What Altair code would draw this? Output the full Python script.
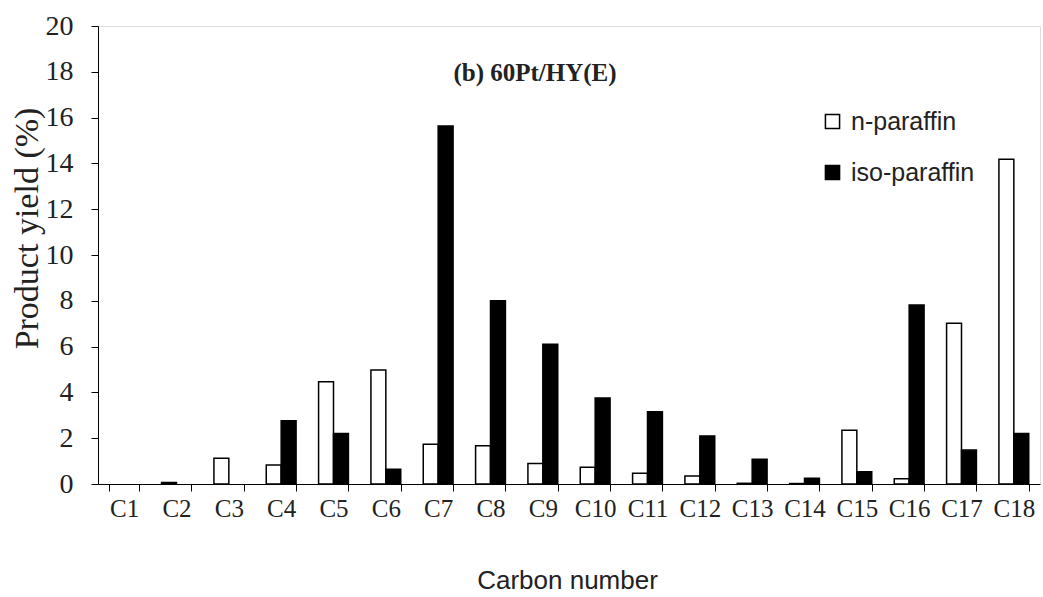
import altair as alt
import pandas as pd

categories = ["C1", "C2", "C3", "C4", "C5", "C6", "C7", "C8", "C9", "C10",
              "C11", "C12", "C13", "C14", "C15", "C16", "C17", "C18"]
n_paraffin = [0.0, 0.07, 1.12, 0.83, 4.47, 4.98, 1.74, 1.67, 0.90, 0.73,
              0.47, 0.35, 0.03, 0.02, 2.35, 0.23, 7.02, 14.18]
iso_paraffin = [0.0, 0.0, 0.0, 2.76, 2.21, 0.64, 15.63, 8.0, 6.1, 3.76,
                3.15, 2.1, 1.08, 0.25, 0.54, 7.82, 1.48, 2.21]
series = ["n-paraffin", "iso-paraffin"]
y_ticks = list(range(0, 21, 2))

rows = []
for c, a, b in zip(categories, n_paraffin, iso_paraffin):
    rows.append({"cat": c, "series": series[0], "value": a})
    rows.append({"cat": c, "series": series[1], "value": b})
df = pd.DataFrame(rows)

serif = "Liberation Serif"
sans = "Liberation Sans"

bars = alt.Chart(df).transform_filter("datum.value > 0").mark_bar(
    stroke="black", strokeWidth=1.5).encode(
    x=alt.X("cat:N", sort=categories,
            scale=alt.Scale(domain=categories, paddingInner=0.43, paddingOuter=0.215),
            axis=alt.Axis(title="Carbon number", labelAngle=0, tickBand="extent",
                          tickSize=7, tickColor="black", domainColor="black",
                          labelFont=serif, labelFontSize=25, labelColor="#222",
                          labelPadding=5,
                          titleFont=sans, titleFontSize=26, titleFontWeight="normal",
                          titleColor="#222", titleBaseline="alphabetic",
                          titleY=104, titleX=469)),
    xOffset=alt.XOffset("series:N", sort=series,
                        scale=alt.Scale(domain=series, paddingInner=0, paddingOuter=0)),
    y=alt.Y("value:Q", scale=alt.Scale(domain=[0, 20]),
            axis=alt.Axis(title="Product yield (%)", values=y_ticks, grid=False,
                          tickSize=7, tickColor="black", domainColor="black",
                          labelFont=serif, labelFontSize=28, labelColor="#222",
                          labelPadding=18,
                          titleFont=serif, titleFontSize=34, titleFontWeight="normal",
                          titleColor="#222", titleAngle=-90, titleBaseline="middle",
                          titleX=-71, titleY=202)),
    fill=alt.Fill("series:N", sort=series,
                  scale=alt.Scale(domain=series, range=["white", "black"]),
                  legend=alt.Legend(title=None, orient="none", legendX=722, legendY=83,
                                    symbolType="square", symbolSize=200,
                                    symbolStrokeColor="black", symbolStrokeWidth=1.5,
                                    labelFont=sans, labelFontSize=25, labelColor="#222",
                                    rowPadding=25, labelOffset=6)),
)

title_df = pd.DataFrame({"t": ["(b) 60Pt/HY(E)"]})
title = alt.Chart(title_df).mark_text(font=serif, fontSize=25, fontWeight="bold",
                                      color="#222", baseline="middle", align="center").encode(
    text="t:N", x=alt.value(437), y=alt.value(47))

chart = alt.layer(bars, title).properties(
    width=942, height=458,
    autosize=alt.AutoSizeParams(type="none"),
    padding={"left": 98, "top": 26, "right": 3, "bottom": 113},
).configure_view(stroke="black", strokeWidth=1.5).configure(background="white")

chart.save("out.html", embed_options={"renderer": "svg", "actions": False})
